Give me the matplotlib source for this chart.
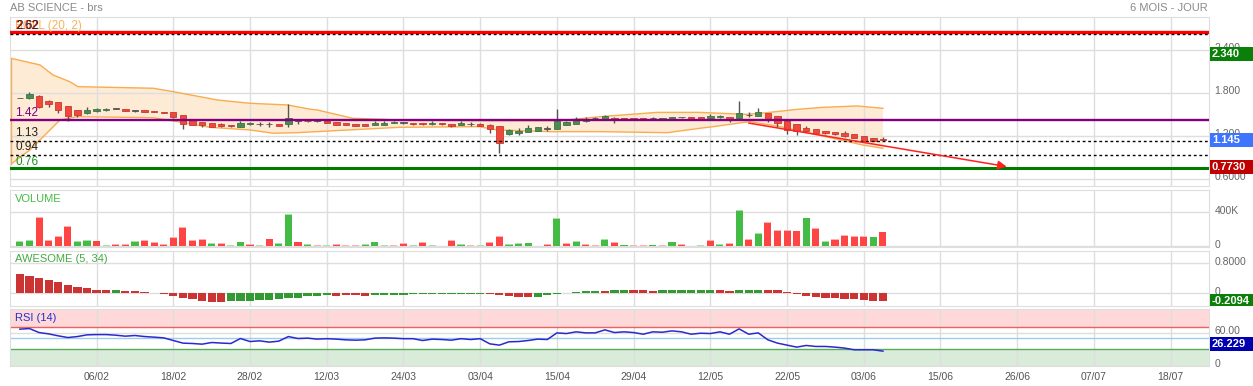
import matplotlib
matplotlib.use('Agg')
import matplotlib.pyplot as plt
import numpy as np
from matplotlib.patches import Rectangle
from matplotlib.transforms import ScaledTranslation, Bbox

plt.rcParams['font.family'] = ['Liberation Sans', 'DejaVu Sans']

# ---------- données ----------
opens = [1.73, 1.73, 1.76, 1.69, 1.67, 1.62, 1.56, 1.52, 1.545, 1.56,
         1.58, 1.58, 1.55, 1.56, 1.545, 1.54, 1.53, 1.49, 1.42, 1.395,
         1.375, 1.37, 1.36, 1.33, 1.365, 1.367, 1.367, 1.365, 1.367, 1.41,
         1.415, 1.41, 1.413, 1.395, 1.38, 1.367, 1.367, 1.358, 1.358, 1.377,
         1.386, 1.386, 1.386, 1.363, 1.386, 1.372, 1.358, 1.363, 1.372, 1.349,
         1.335, 1.224, 1.246, 1.251, 1.274, 1.302, 1.30, 1.358, 1.372, 1.405,
         1.447, 1.437, 1.455, 1.45, 1.45, 1.45, 1.447, 1.43, 1.433, 1.46,
         1.465, 1.465, 1.447, 1.46, 1.465, 1.455, 1.49, 1.483, 1.525, 1.479,
         1.413, 1.367, 1.312, 1.298, 1.27, 1.256, 1.242, 1.224, 1.20, 1.172,
         1.162]
highs = [1.735, 1.82, 1.77, 1.70, 1.67, 1.62, 1.56, 1.60, 1.59, 1.585,
         1.59, 1.58, 1.565, 1.56, 1.55, 1.54, 1.53, 1.49, 1.42, 1.40,
         1.38, 1.38, 1.36, 1.41, 1.39, 1.39, 1.40, 1.37, 1.647, 1.42,
         1.42, 1.42, 1.42, 1.395, 1.38, 1.367, 1.367, 1.41, 1.41, 1.41,
         1.40, 1.386, 1.386, 1.405, 1.386, 1.372, 1.41, 1.39, 1.375, 1.367,
         1.335, 1.30, 1.316, 1.35, 1.33, 1.34, 1.577, 1.41, 1.46, 1.46,
         1.46, 1.49, 1.46, 1.45, 1.45, 1.45, 1.465, 1.455, 1.47, 1.47,
         1.465, 1.465, 1.50, 1.49, 1.47, 1.693, 1.53, 1.59, 1.525, 1.479,
         1.413, 1.367, 1.34, 1.30, 1.275, 1.26, 1.266, 1.225, 1.20, 1.175,
         1.185]
lows = [1.725, 1.72, 1.59, 1.61, 1.52, 1.41, 1.47, 1.51, 1.54, 1.555,
        1.57, 1.545, 1.54, 1.53, 1.53, 1.52, 1.45, 1.30, 1.36, 1.33,
        1.33, 1.33, 1.32, 1.33, 1.36, 1.345, 1.33, 1.34, 1.33, 1.37,
        1.40, 1.39, 1.38, 1.355, 1.355, 1.34, 1.34, 1.358, 1.355, 1.377,
        1.372, 1.36, 1.36, 1.36, 1.36, 1.33, 1.355, 1.335, 1.34, 1.238,
        0.967, 1.22, 1.21, 1.25, 1.27, 1.265, 1.30, 1.35, 1.37, 1.39,
        1.44, 1.43, 1.386, 1.43, 1.425, 1.425, 1.43, 1.43, 1.43, 1.45,
        1.433, 1.433, 1.44, 1.455, 1.40, 1.44, 1.46, 1.48, 1.39, 1.33,
        1.23, 1.22, 1.25, 1.24, 1.23, 1.22, 1.18, 1.165, 1.13, 1.13,
        1.135]
closes = [1.73, 1.79, 1.61, 1.64, 1.56, 1.48, 1.49, 1.56, 1.58, 1.58,
          1.58, 1.55, 1.55, 1.54, 1.53, 1.52, 1.46, 1.37, 1.36, 1.355,
          1.33, 1.345, 1.34, 1.385, 1.385, 1.367, 1.367, 1.34, 1.447, 1.41,
          1.405, 1.41, 1.386, 1.358, 1.358, 1.34, 1.34, 1.386, 1.386, 1.40,
          1.386, 1.363, 1.363, 1.386, 1.363, 1.344, 1.386, 1.363, 1.34, 1.302,
          1.107, 1.284, 1.27, 1.312, 1.326, 1.302, 1.41, 1.395, 1.43, 1.418,
          1.447, 1.479, 1.427, 1.43, 1.43, 1.43, 1.447, 1.45, 1.465, 1.46,
          1.433, 1.433, 1.483, 1.483, 1.423, 1.525, 1.49, 1.535, 1.423, 1.377,
          1.284, 1.266, 1.27, 1.246, 1.237, 1.224, 1.204, 1.168, 1.134, 1.134,
          1.145]

# bandes de Bollinger (20, 2) : points
boll_up_x = [-0.93, 2.1, 3.45, 5.2, 6.06, 13.9, 16.0, 20.6, 24.0, 27.9, 30.3, 31.0, 34.7,
             39.6, 48.7, 56.3, 60.5, 62.9, 66.4, 70.9, 75.8, 77.9, 81.0, 83.7, 87.3, 90.0]
boll_up = [2.284, 2.191, 2.051, 1.958, 1.888, 1.866, 1.818, 1.702, 1.656, 1.633, 1.573, 1.563,
           1.447, 1.423, 1.413, 1.413, 1.469, 1.493, 1.529, 1.529, 1.501, 1.525, 1.571, 1.599,
           1.619, 1.586]
boll_lo_x = [-0.93, 1.05, 2.83, 4.18, 5.95, 13.9, 16.4, 19.8, 24.0, 26.4, 28.9, 39.6, 47.9,
             49.7, 55.3, 60.5, 67.5, 70.9, 72.3, 76.1, 79.3, 84.8, 87.9, 90.0]
boll_lo = [0.809, 1.005, 1.242, 1.423, 1.469, 1.455, 1.40, 1.321, 1.284, 1.238, 1.246, 1.321,
           1.33, 1.284, 1.26, 1.26, 1.246, 1.307, 1.33, 1.40, 1.33, 1.168, 1.074, 1.028]

# volumes (milliers)
volumes = [64, 76, 341, 76, 123, 240, 64, 76, 68, 14,
           29, 29, 64, 76, 53, 29, 111, 228, 76, 88,
           37, 41, 18, 57, 29, 18, 92, 41, 380, 57,
           29, 18, 18, 29, 18, 18, 29, 57, 18, 18,
           41, 18, 49, 18, 10, 76, 29, 14, 18, 53,
           123, 29, 37, 45, 6, 25, 330, 41, 60, 25,
           18, 84, 49, 21, 18, 18, 21, 18, 57, 25,
           6, 18, 76, 29, 37, 427, 88, 154, 283, 193,
           193, 185, 337, 213, 64, 88, 135, 123, 123, 115,
           173]
vol_dir = ("ggrrrrggrg" "rrgrrrrrrr" "grggrgrggr" "grgrrrgggr" "rgrgrrgrgr"
           "rggggrgrgr" "rgrgrrgrgr" "rgrgrgrgrr" "rrgrgrrrrg" "r")

# awesome oscillator (5, 34)
ao = [0.515, 0.47, 0.408, 0.355, 0.30, 0.23, 0.177, 0.142, 0.088, 0.088,
      0.09, 0.062, 0.062, 0.035, 0.0, -0.01, -0.062, -0.115, -0.142, -0.195,
      -0.23, -0.23, -0.204, -0.204, -0.204, -0.177, -0.177, -0.15, -0.115, -0.115,
      -0.08, -0.08, -0.053, -0.062, -0.053, -0.053, -0.062, -0.053, -0.035, -0.035,
      -0.035, -0.018, -0.018, -0.018, -0.018, -0.012, -0.012, -0.012, -0.012, -0.018,
      -0.044, -0.07, -0.098, -0.098, -0.098, -0.044, -0.01, 0.004, 0.027, 0.053,
      0.053, 0.053, 0.08, 0.08, 0.08, 0.08, 0.053, 0.08, 0.08, 0.08,
      0.08, 0.08, 0.08, 0.08, 0.053, 0.08, 0.08, 0.08, 0.08, 0.08,
      0.027, -0.018, -0.07, -0.098, -0.124, -0.124, -0.15, -0.15, -0.177, -0.204,
      -0.2094]
ao_dir = ("rrrrrrrrrr" "grrrrrrrrr" "rrgggggggg" "gggrrrrggg" "gggggggggr"
          "rrrrgggggg" "grggrrrggg" "gggrrgggrr" "rrrrrrrrrr" "r")

# RSI (14)
rsi = [66.4, 67.5, 60.2, 57.8, 54.2, 51.1, 52.9, 56, 56.5, 56.5,
       55.4, 53.6, 54.8, 52.9, 51.8, 50.5, 45.7, 40.9, 40.2, 39,
       42, 41, 40.2, 49.3, 43.8, 45.1, 42.7, 44.5, 52.9, 49.3,
       50, 48.2, 49, 48.2, 46.9, 46.3, 46.9, 50, 50.5, 50,
       49, 49, 45.7, 48.2, 47.5, 46.3, 49, 47.5, 49, 39.6,
       37.2, 43.3, 43.8, 45.7, 48.2, 47.5, 59.6, 58.4, 61.5, 59.6,
       59.6, 65.1, 60.2, 61.5, 60.2, 57.2, 61.5, 60.8, 63.3, 61.5,
       57.2, 59, 58.4, 61.5, 57.2, 66.9, 57.2, 59.6, 46.9, 40.9,
       37.2, 33.6, 36.6, 34.8, 34.8, 33.6, 31.8, 28.7, 28.7, 28.7,
       26.229]

date_pos = [8, 16, 24, 32, 40, 48, 56, 64, 72, 80, 88, 96, 104, 112, 120]
date_labels = ['06/02', '18/02', '28/02', '12/03', '24/03', '03/04', '15/04', '29/04',
               '12/05', '22/05', '03/06', '15/06', '26/06', '07/07', '18/07']

# niveaux horizontaux
lvl_red, lvl_top, lvl_purple, lvl_mid, lvl_low, lvl_green = 2.655, 2.623, 1.427, 1.126, 0.93, 0.749
trend_start, trend_end = (76, 1.38), (102.9, 0.773)

# ---------- mise en page ----------
W, H = 1253, 386
fig = plt.figure(figsize=(W / 100, H / 100), dpi=100)
fig.patch.set_facecolor('white')


def rect(x0, y0, x1, y1):
    return [x0 / W, 1 - y1 / H, (x1 - x0) / W, (y1 - y0) / H]


ax = fig.add_axes(rect(10, 17, 1209, 186))
axv = fig.add_axes(rect(10, 190, 1209, 247))
axa = fig.add_axes(rect(10, 250.7, 1209, 306))
axr = fig.add_axes(rect(10, 309.3, 1209, 365.5))

GRID = '#dedede'
up_off = ScaledTranslation(0, 2.5 / 100, fig.dpi_scale_trans)
for a in (ax, axv, axa, axr):
    a.set_xlim(-1.03, 124.0)
    a.set_xticks(date_pos)
    a.grid(True, color=GRID, lw=1)
    a.set_axisbelow(True)
    for s in a.spines.values():
        s.set_color(GRID)
    a.yaxis.tick_right()
    a.tick_params(length=0, labelsize=7.5, labelcolor='#666666', pad=4)
    a.tick_params(axis='x', labelbottom=False)

ax.set_ylim(0.502, 2.860)
ax.set_yticks([0.6, 1.2, 1.8, 2.4], ['0.6000', '1.200', '1.800', '2.400'])
axv.set_ylim(-6e3, 661e3)
axv.set_yticks([0, 400e3], ['0', '400K'])
axa.set_ylim(-0.339, 1.136)
axa.set_yticks([0, 0.8], ['0', '0.8000'])
axr.set_ylim(0.5, 102.7)
axr.set_yticks([0, 60], ['0', '60.00'])
for a in (ax, axv, axa, axr):
    for lab in a.get_yticklabels():
        lab.set_transform(lab.get_transform() + up_off)

axr.tick_params(axis='x', labelbottom=True, labelsize=7.5, labelcolor='#555555', pad=5)
axr.set_xticklabels(date_labels)

# ---------- panneau principal ----------
idx = np.arange(len(closes))
o, h, l, c = map(np.array, (opens, highs, lows, closes))

ax.fill(np.r_[boll_up_x, boll_lo_x[::-1]], np.r_[boll_up, boll_lo[::-1]],
        color='#fdebd6', lw=0, zorder=0.2)
ax.plot(boll_up_x, boll_up, color='#f8ad4e', lw=1, zorder=2)
ax.plot(boll_lo_x, boll_lo, color='#f8ad4e', lw=1, zorder=2)
ax.plot([boll_up_x[0], boll_lo_x[0]], [boll_up[0], boll_lo[0]], color='#f8ad4e', lw=1, zorder=2)

ax.vlines(idx, l, h, color='#555555', lw=1, zorder=3)
doji = np.abs(c - o) < 0.004
body_col = np.where(doji, '#555555', np.where(c > o, '#4b8c52', '#f0483c'))
edge_col = np.where(doji, '#555555', np.where(c > o, '#3f7444', '#c9392e'))
ax.bar(idx, np.maximum(np.abs(c - o), 0.006), bottom=np.minimum(o, c), width=0.66,
       color=body_col, edgecolor=edge_col, lw=0.6, zorder=4)

ax.axhline(lvl_red, color='#ff0000', lw=2.4, zorder=5)
ax.axhline(lvl_top, color='black', lw=1, ls=(0, (2, 2)), zorder=5)
ax.axhline(lvl_purple, color='#800080', lw=1.7, zorder=5)
ax.axhline(lvl_mid, color='black', lw=1, ls=(0, (2, 2)), zorder=5)
ax.axhline(lvl_low, color='black', lw=1, ls=(0, (2, 2)), zorder=5)
ax.axhline(lvl_green, color='#007a00', lw=2.2, zorder=5)

ax.annotate('', xy=trend_end, xytext=trend_start, zorder=6,
            arrowprops=dict(arrowstyle='-|>', color='#ff2020', lw=1.1, mutation_scale=13,
                            shrinkA=0, shrinkB=0))

ytr = ax.get_yaxis_transform()
lbl = dict(xycoords=ytr, textcoords='offset pixels', fontsize=8.5, va='bottom', ha='left', zorder=7)
ax.annotate('BOLL (20, 2)', xy=(0, lvl_red), xytext=(5, 0), color='#f8b35a', **lbl)
ax.annotate('2.62', xy=(0, lvl_red), xytext=(5, 0), color='#ff0000', **lbl)
ax.annotate('2.62', xy=(0, lvl_red), xytext=(6, 0), color='#222222', **lbl)
ax.annotate('1.42', xy=(0, lvl_purple), xytext=(5, 1), color='#800080', **lbl)
ax.annotate('1.13', xy=(0, lvl_mid), xytext=(5, 2), color='#222222', **lbl)
ax.annotate('0.94', xy=(0, lvl_low), xytext=(5, 2), color='#222222', **lbl)
ax.annotate('0.76', xy=(0, lvl_green), xytext=(5, 0), color='#1f8f1f', **lbl)

# ---------- volume ----------
vols = np.array(volumes) * 1e3
vcol = ['#44bb44' if d == 'g' else '#ff4444' for d in vol_dir]
vcap = ['#a8e0a8' if d == 'g' else '#ffb0b0' for d in vol_dir]
axv.bar(idx, vols, width=0.74, color=vcol, zorder=3)
cap = np.minimum(vols, 9e3)
axv.bar(idx, cap, bottom=vols - cap, width=0.74, color=vcap, zorder=3)
axv.text(0.004, 0.84, 'VOLUME', transform=axv.transAxes, color='#44bb44', fontsize=8, va='center')

# ---------- awesome ----------
acol = ['#339933' if d == 'g' else '#cc3333' for d in ao_dir]
axa.bar(idx, ao, width=0.86, color=acol, zorder=3)
axa.text(0.004, 0.85, 'AWESOME (5, 34)', transform=axa.transAxes, color='#44aa44', fontsize=8, va='center')

# ---------- RSI ----------
axr.axhspan(70, 110, color='#ffd9d9', lw=0, zorder=0.2)
axr.axhspan(-5, 30, color='#d9ecd9', lw=0, zorder=0.2)
axr.axhline(70, color='#ee6060', lw=1, zorder=2)
axr.axhline(50, color='#9fcbf0', lw=1, zorder=2)
axr.axhline(30, color='#5aaa5a', lw=1, zorder=2)
axr.plot(idx, rsi, color='#2a2acc', lw=1.1, zorder=4)
axr.text(0.004, 0.845, 'RSI (14)', transform=axr.transAxes, color='#2233cc', fontsize=8, va='center')


# ---------- étiquettes de valeurs à droite ----------
def value_box(a, v, text, color, dy=0.0, clip=False):
    yd = a.transData.transform((0, v))[1] + dy
    r = Rectangle((1210 / W, (yd - 7) / H), 43 / W, 14 / H, transform=fig.transFigure,
                  facecolor=color, lw=0, zorder=10)
    if clip:
        r.set_clip_box(Bbox.from_extents(0, a.bbox.y0, W, a.bbox.y1))
        r.set_clip_on(True)
    fig.add_artist(r)
    fig.text(1212 / W, yd / H, text, color='white', fontsize=8, fontweight='bold',
             va='center', ha='left', zorder=11)


value_box(ax, 2.34, '2.340', '#0a800a')
value_box(ax, 1.145, '1.145', '#3f74ff')
value_box(ax, 0.773, '0.7730', '#c00000')
value_box(axa, ao[-1], '-0.2094', '#0a800a', clip=True)
value_box(axr, rsi[-1], '26.229', '#0000b0', dy=7.5)

fig.text(10 / W, 1 - 8 / H, 'AB SCIENCE - brs', color='#8a8a8a', fontsize=8, va='center', ha='left')
fig.text(1208 / W, 1 - 8 / H, '6 MOIS - JOUR', color='#8a8a8a', fontsize=8, va='center', ha='right')

fig.savefig('out.png', dpi=100, facecolor='white')
